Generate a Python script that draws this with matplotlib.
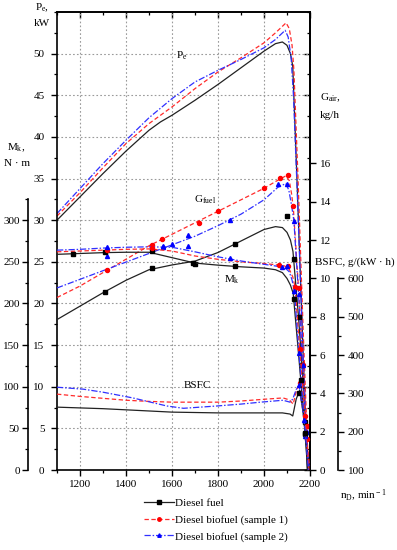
import matplotlib
matplotlib.use("Agg")
import matplotlib.pyplot as plt
import matplotlib.ticker as mt
from matplotlib.lines import Line2D

plt.rcParams['font.family'] = 'Liberation Serif'
plt.rcParams['font.size'] = 8
plt.rcParams['mathtext.fontset'] = 'custom'
plt.rcParams['mathtext.rm'] = 'Liberation Serif'
plt.rcParams['mathtext.it'] = 'Liberation Serif:italic'

# ---- data (rpm, value) ----
# effective power Pe, kW
pe_rpm_d = [1100, 1200, 1300, 1400, 1500, 1550, 1600, 1700, 1800, 1900, 2000, 2050, 2080, 2100, 2115, 2125, 2143, 2165, 2188]
pe_d = [30, 32.8, 35.6, 38.3, 40.8, 41.8, 42.6, 44.4, 46.3, 48.3, 50.3, 51.2, 51.4, 51.0, 50.0, 48.5, 35.2, 18, 0]
pe_rpm_s1 = [1100, 1200, 1300, 1400, 1500, 1600, 1700, 1800, 1900, 2000, 2050, 2096, 2110, 2122, 2130, 2148, 2170, 2193]
pe_s1 = [30.5, 33.3, 36.3, 39.2, 41.6, 43.6, 45.8, 47.8, 49.5, 51.3, 52.5, 53.7, 53.0, 51, 48, 35, 17, 0]
pe_rpm_s2 = [1100, 1200, 1300, 1400, 1500, 1600, 1700, 1800, 1900, 2000, 2050, 2092, 2105, 2118, 2128, 2145, 2167, 2190]
pe_s2 = [30.8, 33.8, 36.8, 39.6, 42.3, 44.6, 46.6, 48.0, 49.3, 50.7, 51.7, 52.8, 52.0, 49.5, 45, 33, 16, 0]

# fuel consumption G_fuel, kg/h
g_rpm_d = [1100, 1200, 1300, 1400, 1500, 1600, 1700, 1800, 1900, 2000, 2050, 2080, 2100, 2115, 2126, 2150, 2170, 2192]
g_d = [7.85, 8.55, 9.25, 9.9, 10.45, 10.7, 10.9, 11.35, 11.95, 12.55, 12.7, 12.65, 12.4, 12.0, 11.4, 8.0, 4.6, 0]
g_rpm_s1 = [1100, 1200, 1300, 1400, 1500, 1600, 1700, 1800, 1900, 2000, 2050, 2095, 2110, 2120, 2128, 2150, 2172, 2195]
g_s1 = [9.0, 9.6, 10.3, 11.0, 11.7, 12.3, 12.9, 13.5, 14.1, 14.7, 15.05, 15.35, 15.1, 14.4, 13.6, 9.5, 5, 0]
g_rpm_s2 = [1100, 1200, 1300, 1400, 1500, 1600, 1700, 1800, 1900, 2000, 2060, 2095, 2108, 2120, 2130, 2150, 2170, 2193]
g_s2 = [9.5, 9.95, 10.4, 10.85, 11.3, 11.75, 12.2, 12.75, 13.35, 14.1, 14.75, 14.95, 14.6, 13.8, 13.0, 9.2, 5, 0]

# torque Mk, N*m
mk_rpm_d = [1100, 1200, 1300, 1400, 1500, 1600, 1700, 1800, 1900, 2000, 2050, 2080, 2100, 2115, 2127, 2150, 2170, 2190]
mk_d = [259, 260, 261, 261.5, 261.5, 255, 248.5, 246, 244, 242.5, 240.5, 237, 230, 222, 212, 140, 75, 0]
mk_rpm_s1 = [1100, 1200, 1300, 1400, 1500, 1600, 1700, 1800, 1900, 2000, 2050, 2090, 2110, 2125, 2135, 2155, 2175, 2195]
mk_s1 = [262, 263, 264, 265, 265.5, 263, 257, 253, 250, 248, 246.5, 245, 241, 232, 220, 145, 75, 0]
mk_rpm_s2 = [1100, 1200, 1300, 1400, 1500, 1600, 1700, 1800, 1900, 2000, 2050, 2090, 2110, 2122, 2132, 2152, 2172, 2193]
mk_s2 = [264, 265, 266.5, 267.5, 268, 267.5, 262, 256, 251, 247, 245, 243, 238, 228, 215, 140, 70, 0]

# specific fuel consumption BSFC, g/(kW*h)
bsfc_rpm_d = [1100, 1200, 1300, 1400, 1500, 1600, 1700, 1800, 1900, 2000, 2080, 2113, 2125, 2140, 2155, 2170, 2185, 2197]
bsfc_d = [264, 262, 260, 257, 254, 251, 250, 249, 249, 249, 249, 246, 241, 285, 308, 250, 165, 105]
bsfc_rpm_s1 = [1100, 1200, 1300, 1400, 1500, 1600, 1700, 1800, 1900, 2010, 2083, 2110, 2127, 2142, 2157, 2172, 2187, 2198]
bsfc_s1 = [298, 292, 287, 282, 279, 277, 277, 277, 280, 285, 288, 283, 272, 310, 326, 260, 170, 110]
bsfc_rpm_s2 = [1100, 1213, 1300, 1430, 1500, 1578, 1650, 1795, 1900, 1985, 2083, 2113, 2125, 2140, 2152, 2168, 2185, 2196]
bsfc_s2 = [316, 311, 303, 288, 278, 267, 261, 267, 272, 277, 282, 277, 285, 310, 321, 260, 165, 110]

# measured points
pt_g_rpm_d = [1309, 1512, 1700, 1874, 2099, 2130, 2150, 2165, 2180]
pt_g_d = [9.3, 10.55, 10.75, 11.8, 13.25, 11.0, 8.0, 5.5, 2.5]
pt_mk_rpm_d = [1171, 1309, 1512, 1691, 1874, 2130, 2160, 2178]
pt_mk_d = [259, 261.5, 262.5, 249, 244.5, 205, 108, 45]
pt_bsfc_rpm_d = [2150, 2180]
pt_bsfc_d = [300, 195]

pt_g_rpm_s1 = [1319, 1512, 1558, 1717, 1799, 2001, 2070, 2105, 2126, 2150, 2170, 2185]
pt_g_s1 = [10.45, 11.75, 12.05, 12.9, 13.5, 14.7, 15.25, 15.4, 13.8, 9.5, 5.5, 2.3]
pt_mk_rpm_s1 = [1319, 1512, 2065, 2103, 2135, 2155, 2178]
pt_mk_s1 = [264, 266, 246, 245, 220, 145, 65]
pt_bsfc_rpm_s1 = [2157, 2185]
pt_bsfc_s1 = [326, 180]

pt_g_rpm_s2 = [1319, 1562, 1599, 1671, 1852, 2061, 2099, 2130, 2150, 2168, 2185]
pt_g_s2 = [11.15, 11.65, 11.8, 12.25, 13.05, 14.95, 14.95, 13.0, 9.2, 5.5, 2.0]
pt_mk_rpm_s2 = [1319, 1562, 1671, 1852, 2077, 2099, 2132, 2152, 2175]
pt_mk_s2 = [267.5, 268.5, 268.5, 254, 243.5, 244.5, 215, 140, 60]
pt_bsfc_rpm_s2 = [2152, 2180]
pt_bsfc_s2 = [321, 190]

labels = ['Diesel fuel', 'Diesel biofuel (sample 1)', 'Diesel biofuel (sample 2)']

W_PX, H_PX = 397, 550
PT = 0.72  # points per pixel at 100 dpi


def px(x, y):
    return x / W_PX, 1 - y / H_PX


fig = plt.figure(figsize=(W_PX / 100, H_PX / 100), dpi=100)
ax = fig.add_axes([57 / W_PX, 80 / H_PX, 253 / W_PX, 458 / H_PX])

SPW = 1.2
FS = 8
# main axis: Pe
ax.set_xlim(1100, 2200)
ax.set_ylim(0, 55)
ax.set_xticks(range(1200, 2201, 200))
ax.xaxis.set_minor_locator(mt.MultipleLocator(100))
ax.set_yticks(range(0, 51, 5))
ax.yaxis.set_minor_locator(mt.MultipleLocator(2.5))
ax.tick_params(which='major', direction='out', length=4, width=1.0, pad=5, labelsize=FS)
ax.tick_params(which='minor', direction='out', length=2.5, width=0.9)
ax.tick_params(axis='x', pad=3)
ax.grid(True, which='major', ls=(0, (1.5, 2.0)), color='#9a9a9a', lw=0.8)
for s in ax.spines.values():
    s.set_linewidth(SPW)

# mirrored inward ticks on top and right
sec_t = ax.secondary_xaxis('top')
sec_t.set_xticks(range(1200, 2201, 200))
sec_t.xaxis.set_minor_locator(mt.MultipleLocator(100))
sec_t.tick_params(which='major', direction='in', length=4, width=1.0, labeltop=False)
sec_t.tick_params(which='minor', direction='in', length=2.5, width=0.9)
sec_t.xaxis.set_major_formatter(mt.NullFormatter())
sec_t.spines['top'].set_linewidth(SPW)
sec_r = ax.secondary_yaxis('right')
sec_r.set_yticks(range(0, 51, 5))
sec_r.yaxis.set_minor_locator(mt.MultipleLocator(2.5))
sec_r.tick_params(which='major', direction='in', length=4, width=1.0)
sec_r.tick_params(which='minor', direction='in', length=2.5, width=0.9)
sec_r.yaxis.set_major_formatter(mt.NullFormatter())
sec_r.spines['right'].set_linewidth(SPW)

# G axis (right)
ax_g = ax.twinx()
ax_g.set_ylim(0, 23.9)
ax_g.set_yticks(range(0, 17, 2))
ax_g.tick_params(direction='out', length=4, width=1.0, pad=3, labelsize=FS)
for k in ['left', 'top', 'bottom']:
    ax_g.spines[k].set_visible(False)
ax_g.spines['right'].set_linewidth(SPW)

# BSFC axis (right, offset)
ax_b = ax.twinx()
ax_b.set_ylim(100, 1295)
ax_b.spines['right'].set_position(('outward', 28 * PT))
ax_b.spines['right'].set_bounds(100, 600)
ax_b.spines['right'].set_linewidth(SPW)
ax_b.set_yticks(range(100, 601, 100))
ax_b.yaxis.set_minor_locator(mt.FixedLocator(range(150, 600, 100)))
ax_b.tick_params(which='major', direction='out', length=4, width=1.0, pad=3, labelsize=FS)
ax_b.tick_params(which='minor', direction='out', length=2.5, width=0.9)
for k in ['left', 'top', 'bottom']:
    ax_b.spines[k].set_visible(False)

# Mk axis (left, offset)
ax_m = ax.twinx()
ax_m.set_ylim(0, 550)
ax_m.yaxis.set_ticks_position('left')
ax_m.spines['left'].set_visible(True)
ax_m.spines['left'].set_position(('outward', 29 * PT))
ax_m.spines['left'].set_bounds(0, 325)
ax_m.spines['left'].set_linewidth(SPW)
ax_m.set_yticks(range(0, 301, 50))
ax_m.yaxis.set_minor_locator(mt.FixedLocator(range(25, 326, 50)))
ax_m.tick_params(which='major', direction='out', length=4, width=1.0, pad=2, labelsize=FS)
ax_m.tick_params(which='minor', direction='out', length=2.5, width=0.9)
for k in ['right', 'top', 'bottom']:
    ax_m.spines[k].set_visible(False)

# ---- curves ----
styles = [
    dict(color='#222222', ls='-', marker='s', mcol='black'),
    dict(color='#ff2a2a', ls=(0, (3.5, 2)), marker='o', mcol='red'),
    dict(color='#3030ff', ls=(0, (5, 1.5, 1.2, 1.5)), marker='^', mcol='blue'),
]
LW = 0.9
MS = 2.9

lines = [
    (ax, [(pe_rpm_d, pe_d), (pe_rpm_s1, pe_s1), (pe_rpm_s2, pe_s2)]),
    (ax_g, [(g_rpm_d, g_d), (g_rpm_s1, g_s1), (g_rpm_s2, g_s2)]),
    (ax_m, [(mk_rpm_d, mk_d), (mk_rpm_s1, mk_s1), (mk_rpm_s2, mk_s2)]),
    (ax_b, [(bsfc_rpm_d, bsfc_d), (bsfc_rpm_s1, bsfc_s1), (bsfc_rpm_s2, bsfc_s2)]),
]
for a, series in lines:
    for st, (xs, ys) in zip(styles, series):
        a.plot(xs, ys, color=st['color'], ls=st['ls'], lw=LW, clip_on=False)

points = [
    (ax_g, [(pt_g_rpm_d, pt_g_d), (pt_g_rpm_s1, pt_g_s1), (pt_g_rpm_s2, pt_g_s2)]),
    (ax_m, [(pt_mk_rpm_d, pt_mk_d), (pt_mk_rpm_s1, pt_mk_s1), (pt_mk_rpm_s2, pt_mk_s2)]),
    (ax_b, [(pt_bsfc_rpm_d, pt_bsfc_d), (pt_bsfc_rpm_s1, pt_bsfc_s1), (pt_bsfc_rpm_s2, pt_bsfc_s2)]),
]
for a, series in points:
    for st, (xs, ys) in zip(styles, series):
        a.plot(xs, ys, ls='none', marker=st['marker'], ms=MS, color=st['mcol'],
               mec=st['mcol'], clip_on=False)

# curve names
ax.text(1643, 49.8, r'P$_{\rm e}$', ha='center', va='center', fontsize=FS)
ax.text(1745, 32.4, r'G$_{\rm fuel}$', ha='center', va='center', fontsize=FS)
ax.text(1861, 22.9, r'M$_{\rm k}$', ha='center', va='center', fontsize=FS)
ax.text(1712, 10.2, 'BSFC', ha='center', va='center', fontsize=FS)

# axis titles
fig.text(*px(42, 8), r'P$_{\rm e}$,', ha='center', va='center', fontsize=FS)
fig.text(*px(42, 23), 'kW', ha='center', va='center', fontsize=FS)
fig.text(*px(16, 148), r'M$_{\rm k}$,', ha='center', va='center', fontsize=FS)
fig.text(*px(17, 164), 'N · m', ha='center', va='center', fontsize=FS)
fig.text(*px(320, 98), r'G$_{\rm air}$,', ha='left', va='center', fontsize=FS)
fig.text(*px(320, 116), 'kg/h', ha='left', va='center', fontsize=FS)
fig.text(*px(315, 262), 'BSFC, g/(kW · h)', ha='left', va='center', fontsize=FS)
fig.text(*px(340, 496), r'n$_{\rm D}$, min$^{\rm -1}$', ha='left', va='center', fontsize=FS)

# legend
handles = [Line2D([], [], color=st['color'], ls=st['ls'], lw=LW, marker=st['marker'],
                  ms=MS - 0.4, mfc=st['mcol'], mec=st['mcol']) for st in styles]
fig.legend(handles, labels, loc='upper left', bbox_to_anchor=px(144, 498),
           frameon=False, handlelength=2.7, handletextpad=0.1, labelspacing=0.62,
           borderpad=0, borderaxespad=0, fontsize=FS)

fig.savefig('out.png', dpi=100)
